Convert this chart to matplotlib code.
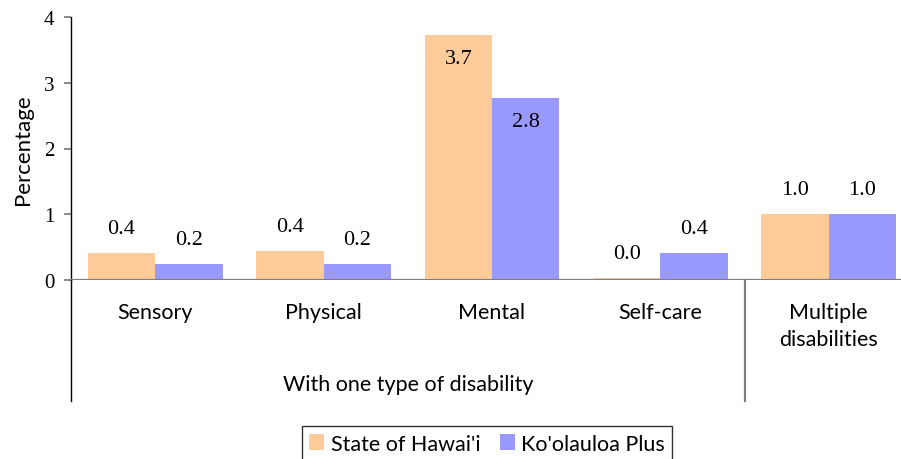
import numpy as np
import matplotlib.pyplot as plt
from matplotlib.transforms import blended_transform_factory

# data
categories = ["Sensory", "Physical", "Mental", "Self-care", "Multiple\ndisabilities"]
group_label = "With one type of disability"
series_names = ["State of Hawai'i", "Ko'olauloa Plus"]
hawaii = [0.41, 0.44, 3.73, 0.03, 1.00]
koolauloa = [0.24, 0.24, 2.77, 0.41, 1.00]
# Excel put the Mental labels inside the bar end, the rest outside
label_inside = [False, False, True, False, False]
y_ticks = [0, 1, 2, 3, 4]

colors = ["#FFCC99", "#9999FF"]
sans = "Lato"
serif = "Liberation Serif"
gray = "#808080"
fs = 15.5

fig = plt.figure(figsize=(9.01, 4.60), dpi=100)
W, H = 901, 460
# plot area runs past the right edge of the image, like the reference
ax = fig.add_axes([71 / W, (H - 281) / H, 842 / W, 263 / H])

x = np.arange(len(categories))
bw = 0.4
bars_a = ax.bar(x - bw / 2, hawaii, bw, color=colors[0], label=series_names[0], zorder=2)
bars_b = ax.bar(x + bw / 2, koolauloa, bw, color=colors[1], label=series_names[1], zorder=2)

for bars, vals in [(bars_a, hawaii), (bars_b, koolauloa)]:
    for rect, v, inside in zip(bars, vals, label_inside):
        off = -17 if inside else 18
        ax.annotate(f"{v:.1f}", (rect.get_x() + rect.get_width() / 2, v),
                    xytext=(0, off), textcoords="offset points",
                    ha="center", va="center", fontsize=16, family=serif)

ax.set_xlim(-0.5, len(categories) - 0.5)
ax.set_ylim(0, 4)
ax.set_yticks(y_ticks)
ax.set_yticklabels([str(t) for t in y_ticks], family=serif, fontsize=15)
ax.tick_params(axis="y", length=5, width=1.3, color=gray, pad=7)

ax.set_xticks(x)
ax.set_xticklabels(categories, family=sans, fontsize=fs, linespacing=1.45)
ax.tick_params(axis="x", length=0, pad=16)

ax.set_ylabel("Percentage", family=sans, fontsize=16)
ax.yaxis.set_label_coords(-38 / 842, 0.5)

for s in ["top", "right", "bottom"]:
    ax.spines[s].set_visible(False)
ax.spines["left"].set_linewidth(1.0)
ax.axhline(0, color=gray, lw=1.6, zorder=3)

# y axis line continues down through the category area
ax.plot([0, 0], [0, -121 / 263], transform=ax.transAxes, color="black",
        lw=1.0, clip_on=False)
# divider between the single-type group and "Multiple disabilities"
trans = blended_transform_factory(ax.transData, ax.transAxes)
ax.plot([3.5, 3.5], [0, -121 / 263], transform=trans, color=gray,
        lw=1.6, clip_on=False)
ax.text(1.5, -104 / 263, group_label, transform=trans, ha="center", va="center",
        family=sans, fontsize=fs)

leg = fig.legend(loc="upper center", bbox_to_anchor=(487 / W, (H - 427) / H),
                 ncol=2, frameon=True, fancybox=False, prop={"family": sans, "size": fs},
                 handlelength=0.7, handleheight=0.7, handletextpad=0.3,
                 columnspacing=0.9, borderpad=0.35, borderaxespad=0)
leg.get_frame().set_edgecolor("black")
leg.get_frame().set_linewidth(1.0)

fig.savefig("out.png", dpi=100)
